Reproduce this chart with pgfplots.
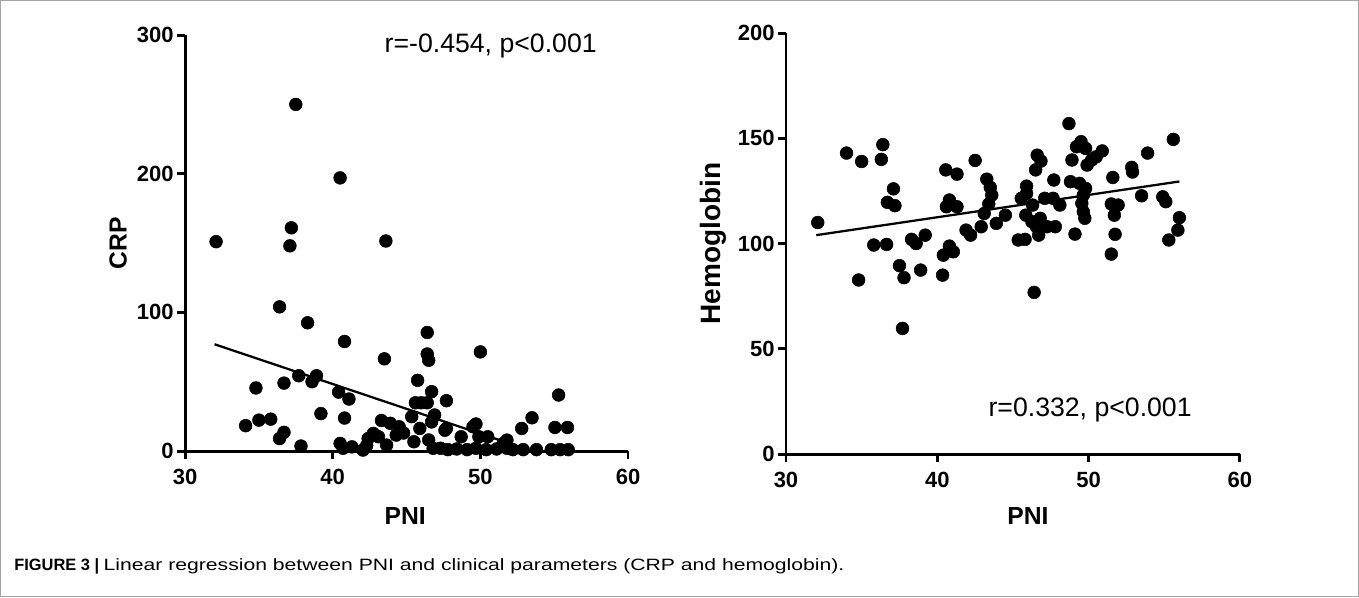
\documentclass[border=0pt]{standalone}
\usepackage{pgfplots}
\pgfplotsset{compat=1.18}
\usepackage{fontspec}
\setmainfont{Liberation Sans}
\newfontfamily\capfont[FakeStretch=1.29]{Liberation Sans}
\newlength\pu
\setlength\pu{0.75pt}
\pgfplotsset{
  myax/.style={
    scale only axis,
    axis lines=left,
    axis line style={-, line width=2.2pt},
    tick style={line width=2.2pt, black},
    major tick length=6pt,
    tick align=outside,
    xmin=30, xmax=60, xtick={30,40,50,60},
    clip=false,
    /pgf/number format/assume math mode=true,
    every tick label/.append style={font=\bfseries\fontsize{16.5}{19}\selectfont},
    x tick label style={yshift=-4pt},
    y tick label style={xshift=1pt},
    label style={font=\bfseries\fontsize{18.5}{21}\selectfont},
    xlabel={PNI},
  },
  dots/.style={only marks, mark=*, mark size=4.8pt, black, mark options={fill=black, draw=black}},
  reg/.style={no marks, black, line width=1.7pt},
}
\begin{document}
\begin{tikzpicture}
\draw[gray!70, line width=0.9pt] (0.5*\pu,0.5*\pu) rectangle (1358.5*\pu,596.5*\pu);
% Left: CRP
\begin{axis}[myax,
  at={(185*\pu,146*\pu)}, anchor=south west,
  width=443*\pu, height=416*\pu,
  ymin=0, ymax=300, ytick={0,100,200,300},
  ylabel={CRP},
  ylabel style={at={(axis description cs:-0.151,0.5)}, anchor=center},
  xlabel style={at={(axis description cs:0.497,-0.156)}, anchor=center},
]
\addplot[dots] coordinates {
(32.1,151) (37.5,250) (40.5,197) (37.2,161) (37.1,148) (43.6,151.5)
(36.4,104) (38.3,92.5) (40.8,79) (43.5,66.5) (46.4,85.5) (46.4,70) (46.5,65.5)
(50.0,71.5) (34.8,45.5) (36.7,49) (37.7,54.3) (38.6,50) (38.9,54.3)
(40.4,42.5) (41.1,37.5) (39.2,27) (40.8,23.8) (34.1,18.3) (35.0,22.3) (35.8,23)
(36.4,9) (36.7,13.5) (37.85,3.6) (40.5,5.5) (40.7,2) (41.3,3) (42.05,0.7)
(42.4,9) (42.75,12.7) (43.1,10.3) (43.3,22) (43.9,20) (44.5,17.5) (44.3,11.5)
(43.65,4.3) (44.8,13) (42.3,4) (45.75,51) (45.6,34.8) (46.0,34.8) (46.4,34.8)
(46.7,42.8) (47.7,36.3) (45.35,24.8) (46.9,26) (45.9,16.3) (47.7,16.3) (46.7,21)
(45.5,6.7) (46.5,8) (47.6,15) (48.7,10.3) (49.5,17.5) (49.7,19.5) (49.9,10.3) (50.5,10.3)
(46.8,2) (47.3,2) (47.8,1) (48.4,1.5) (49.1,1) (49.7,2) (50.4,1) (51.1,1.5)
(51.8,2) (52.2,1) (52.9,1) (53.8,1) (54.8,1) (55.4,1) (55.95,1)
(51.55,5.5) (51.8,7.9) (55.3,40.4) (53.5,24) (52.8,16.3) (55.05,17) (55.9,17)
};
\addplot[reg] coordinates {(32,77) (53.5,0)};
\node[font=\fontsize{20}{23}\selectfont] at (axis cs:50.7,292) {r=-0.454, p<0.001};
\end{axis}
% Right: Hemoglobin
\begin{axis}[myax,
  at={(786*\pu,143*\pu)}, anchor=south west,
  width=454*\pu, height=421*\pu,
  ymin=0, ymax=200, ytick={0,50,100,150,200},
  ylabel={Hemoglobin},
  ylabel style={at={(axis description cs:-0.161,0.5)}, anchor=center, font=\bfseries\fontsize{21}{24}\selectfont},
  xlabel style={at={(axis description cs:0.533,-0.147)}, anchor=center},
]
\addplot[dots] coordinates {
(32.1,110) (34.0,143) (35.0,139) (36.4,147) (36.3,140) (37.1,126) (36.7,119.6)
(37.2,118) (35.8,99.3) (36.65,99.6) (34.8,82.7) (37.5,89.5) (37.8,83.8) (37.7,59.7)
(38.3,102) (38.6,100) (39.2,104) (38.9,87.4) (40.35,85) (40.4,94.5) (40.8,98.8)
(41.06,96.1) (40.56,135) (41.3,133) (42.5,139.5) (40.6,117.5) (40.8,120.7) (41.3,117.5)
(41.9,106.4) (42.2,104) (42.9,108) (43.9,109.6) (43.27,130.6) (43.5,126.7) (43.6,123)
(43.4,118.8) (43.1,114.3) (44.5,113.5) (48.7,157) (55.6,149.5) (53.9,143) (49.5,148.4)
(49.8,145.2) (49.2,146) (48.9,139.7) (50.9,144) (50.5,141.2) (50.2,139.7) (49.9,137.3)
(52.85,136.2) (52.9,134) (51.6,131.4) (46.6,142) (46.85,139.2) (46.5,135) (47.7,130.2)
(45.9,127.3) (48.8,129.4) (49.4,128.6) (49.8,126.2) (49.65,123) (49.55,119.1) (49.65,115.1)
(49.75,112) (53.5,122.7) (54.9,122.2) (55.1,119.9) (56.0,112.3) (55.9,106.4) (55.3,101.7)
(51.5,118.8) (51.95,118.3) (51.7,113.5) (51.75,104.4) (51.5,95) (49.1,104.5) (46.4,76.8)
(45.55,121.5) (45.9,123.8) (46.3,118.3) (47.1,121.5) (47.65,121.5) (48.1,118.3)
(45.85,113.5) (46.25,110.4) (46.8,112) (47.25,108) (47.8,108) (46.55,108)
(45.35,101.7) (45.8,102) (46.7,104)
};
\addplot[reg] coordinates {(32,104) (56,129.5)};
\node[font=\fontsize{20}{23}\selectfont] at (axis cs:50.1,20.8) {r=0.332, p<0.001};
\end{axis}
\node[anchor=west, inner sep=0pt, font=\fontsize{12.3}{14}\selectfont] at (14*\pu,31*\pu) {\textbf{FIGURE 3 |} {\capfont Linear regression between PNI and clinical parameters (CRP and hemoglobin).}};
\end{tikzpicture}
\end{document}
